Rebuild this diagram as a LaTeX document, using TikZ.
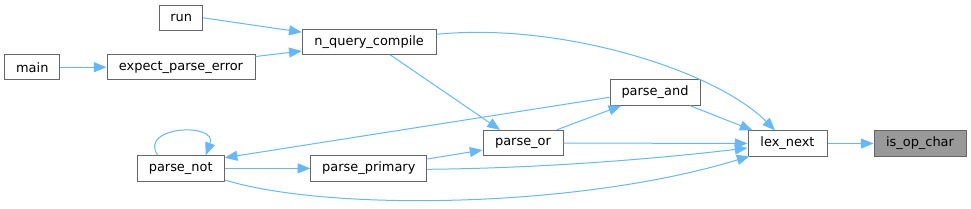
\documentclass[tikz,border=0pt]{standalone}
\usepackage{fontspec}
\setmainfont{DejaVu Sans}
\usetikzlibrary{arrows.meta,calc}
\definecolor{GraphEdge}{HTML}{63B8FF}
\definecolor{GraphBorder}{HTML}{666666}
\definecolor{GraphFocus}{HTML}{999999}
\tikzset{
  every node/.style={font=\fontsize{9.7}{11}\selectfont, text=black},
  fnbox/.style={draw=GraphBorder, line width=0.75pt, fill=white, minimum height=19pt, inner sep=0pt},
  focusbox/.style={fnbox, fill=GraphFocus},
  call/.style={-{Triangle[length=9.5pt,width=7.5pt]}, draw=GraphEdge, line width=0.75pt},
}

\begin{document}
\begin{tikzpicture}[x=0.75pt,y=-0.75pt]
  \useasboundingbox (0,0) rectangle (971,208);
  % Function boxes, one per routine
  \node[fnbox, minimum width=32.25pt] (run) at (181.2,17.8) {run};
  \node[fnbox, minimum width=100.5pt] (n_query_compile) at (369.2,41.7) {n\_query\_compile};
  \node[fnbox, minimum width=41.25pt] (main) at (32.3,67.2) {main};
  \node[fnbox, minimum width=111pt] (expect_parse_error) at (181,67.2) {expect\_parse\_error};
  \node[fnbox, minimum width=67.5pt] (parse_and) at (655,92.5) {parse\_and};
  \node[fnbox, minimum width=60pt] (parse_or) at (523,143) {parse\_or};
  \node[fnbox, minimum width=59.25pt] (lex_next) at (787.5,143.5) {lex\_next};
  \node[focusbox, minimum width=69pt] (is_op_char) at (920,143.5) {is\_op\_char};
  \node[fnbox, minimum width=65.25pt] (parse_not) at (180.7,168.4) {parse\_not};
  \node[fnbox, minimum width=87pt] (parse_primary) at (368.8,168.4) {parse\_primary};
  % Calls between them
  \draw[call] (main) -- (expect_parse_error);
  \draw[call] (run.east) -- ($(n_query_compile.west)+(0,-9.5)$);
  \draw[call] ($(expect_parse_error.north east)+(0,2.5)$) -- ($(n_query_compile.west)+(0,9.3)$);
  \draw[call] ($(n_query_compile.east)+(0,-7.4)$) .. controls (560,22) and (715,70) .. ($(lex_next.north)+(-12.5,0)$);
  \draw[call] ($(n_query_compile.south)+(21,0)$) -- ($(parse_or.north)+(-23,0)$);
  \draw[call] ($(parse_and.south)+(35,0)$) -- ($(lex_next.north west)+(5,0)$);
  \draw[call] ($(parse_or.north)+(33.7,0)$) -- ($(parse_and.south west)+(11.7,0)$);
  \draw[call] ($(parse_and.west)+(0,4.8)$) -- ($(parse_not.north east)+(0,2.5)$);
  \draw[call] (parse_or) -- (lex_next);
  \draw[call] ($(parse_primary.east)+(0,-9.4)$) -- ($(parse_or.west)+(0,7)$);
  \draw[call] ($(parse_primary.east)+(0,0.9)$) .. controls (560,168) and (680,156) .. ($(lex_next.west)+(0,4.5)$);
  \draw[call] (parse_not) -- (parse_primary);
  \draw[call] ($(parse_not.east)+(0,11.6)$) .. controls (330,212) and (580,208) .. ($(lex_next.south west)+(2,-0.5)$);
  \draw[call] ($(parse_not.north)+(-23,0)$) .. controls (138,126) and (218,122) .. ($(parse_not.north)+(25,0)$);
  \draw[call] (lex_next) -- (is_op_char);
\end{tikzpicture}
\end{document}
